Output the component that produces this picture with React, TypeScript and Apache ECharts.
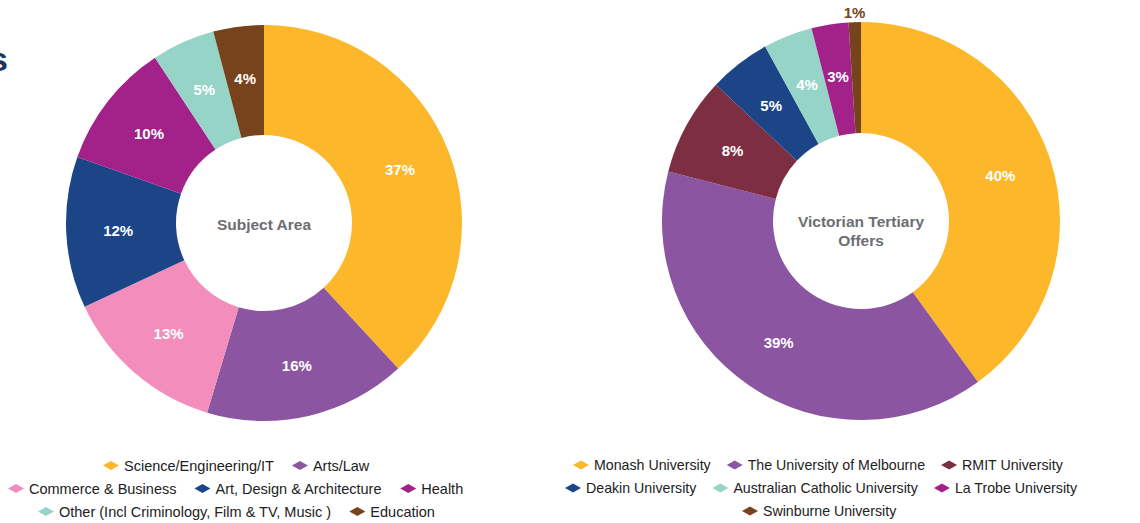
import React, { useEffect, useRef } from "react";
import * as echarts from "echarts";

const subjectNames = [
  "Science/Engineering/IT",
  "Arts/Law",
  "Commerce & Business",
  "Art, Design & Architecture",
  "Health",
  "Other (Incl Criminology, Film & TV, Music )",
  "Education",
];
const subjectValues = [37, 16, 13, 12, 10, 5, 4];
const subjectColors = ["#FDB72B", "#8C55A2", "#F28DBC", "#1C4587", "#A3228A", "#97D4C8", "#77431C"];

const uniNames = [
  "Monash University",
  "The University of Melbourne",
  "RMIT University",
  "Deakin University",
  "Australian Catholic University",
  "La Trobe University",
  "Swinburne University",
];
const uniValues = [40, 39, 8, 5, 4, 3, 1];
const uniColors = ["#FDB72B", "#8C55A2", "#7D2E43", "#1C4587", "#97D4C8", "#A3228A", "#77431C"];

const leftLegendRows = [
  { names: subjectNames.slice(0, 2), left: 103 },
  { names: subjectNames.slice(2, 5), left: 8 },
  { names: subjectNames.slice(5, 7), left: 38 },
];
const rightLegendRows = [
  { names: uniNames.slice(0, 3), left: 573 },
  { names: uniNames.slice(3, 6), left: 565 },
  { names: uniNames.slice(6, 7), left: 742 },
];
const rowTops = [458, 481, 504];

const FONT = "'Liberation Sans', Arial, Helvetica, sans-serif";

export default function App() {
  const ref = useRef<HTMLDivElement>(null);
  useEffect(() => {
    if (!ref.current) return;
    const chart = echarts.init(ref.current, undefined, { renderer: "svg" });
    const insideLabel = {
      show: true,
      position: "inside",
      formatter: (p: any) => `${p.value}%`,
      color: "#ffffff",
      fontWeight: "bold",
      fontSize: 15,
      fontFamily: FONT,
    };
    const legendBase = {
      orient: "horizontal",
      icon: "diamond",
      itemWidth: 16,
      itemHeight: 9,
      padding: 0,
      selectedMode: false,
    };
    const legends: any[] = [];
    leftLegendRows.forEach((r, i) =>
      legends.push({
        ...legendBase,
        itemGap: 18,
        textStyle: { fontSize: 14.5, color: "#222222", fontFamily: FONT },
        data: r.names,
        left: r.left,
        top: rowTops[i],
      })
    );
    rightLegendRows.forEach((r, i) =>
      legends.push({
        ...legendBase,
        itemGap: 16,
        textStyle: { fontSize: 14.2, color: "#222222", fontFamily: FONT },
        data: r.names,
        left: r.left,
        top: rowTops[i],
      })
    );

    chart.setOption({
      animation: false,
      legend: legends,
      graphic: [
        {
          type: "text",
          x: -11,
          y: 42,
          style: { text: "s", fontSize: 34, fontWeight: "bold", fill: "#1A3560", fontFamily: FONT },
        },
        {
          type: "text",
          x: 264,
          y: 224,
          style: {
            text: "Subject Area",
            fontSize: 15.5,
            fontWeight: "bold",
            fill: "#6D6E71",
            fontFamily: FONT,
            align: "center",
            verticalAlign: "middle",
          },
        },
        {
          type: "text",
          x: 861,
          y: 231,
          style: {
            text: "Victorian Tertiary\nOffers",
            fontSize: 15.5,
            lineHeight: 19,
            fontWeight: "bold",
            fill: "#6D6E71",
            fontFamily: FONT,
            align: "center",
            verticalAlign: "middle",
          },
        },
      ],
      series: [
        {
          type: "pie",
          center: [264, 223],
          radius: [88, 198],
          startAngle: 90,
          clockwise: true,
          avoidLabelOverlap: false,
          label: insideLabel,
          labelLine: { show: false },
          emphasis: { disabled: true },
          data: subjectNames.map((n, i) => ({ name: n, value: subjectValues[i], itemStyle: { color: subjectColors[i] } })),
        },
        {
          type: "pie",
          center: [861, 221],
          radius: [88, 199],
          startAngle: 90,
          clockwise: true,
          avoidLabelOverlap: false,
          label: insideLabel,
          labelLine: { show: false },
          emphasis: { disabled: true },
          data: uniNames.map((n, i) => {
            const item: any = { name: n, value: uniValues[i], itemStyle: { color: uniColors[i] } };
            if (i === uniNames.length - 1) {
              item.label = {
                show: true,
                position: "outside",
                color: "#77431C",
                fontSize: 15,
                fontWeight: "bold",
                fontFamily: FONT,
                distanceToLabelLine: 0,
                padding: [0, -11, 0, 0],
              };
              item.labelLine = { show: false, length: 10, length2: 0 };
            }
            return item;
          }),
        },
      ],
    });
    return () => chart.dispose();
  }, []);
  return <div ref={ref} style={{ position: "absolute", left: 0, top: 0, width: 1140, height: 523, background: "#fff" }} />;
}
